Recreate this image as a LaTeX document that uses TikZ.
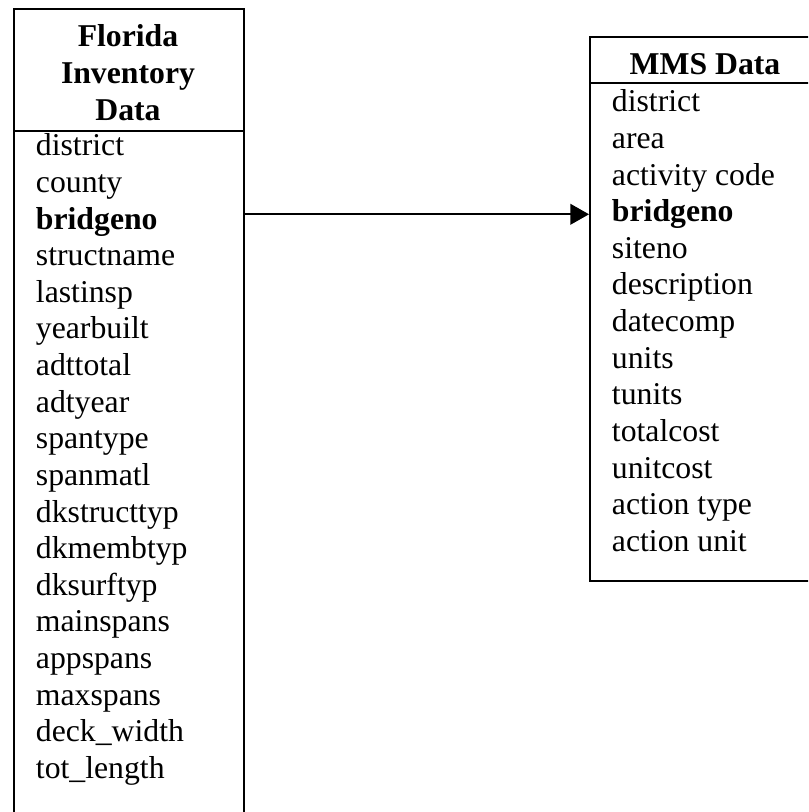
\documentclass[tikz,border=0pt]{standalone}
\usepackage{fontspec}
\setmainfont{Liberation Serif}
\usetikzlibrary{arrows.meta,positioning}

\begin{document}
\begin{tikzpicture}[x=0.75pt,y=-0.75pt,line width=1.4pt,
		tablebox/.style={draw,inner sep=0pt,anchor=north west},
		field/.style={anchor=base west,inner sep=0pt,font=\fontsize{23.8}{27.5}\selectfont},
		head/.style={anchor=base,inner sep=0pt,font=\fontsize{23.8}{27.5}\selectfont\bfseries}]
	\useasboundingbox (0,0) rectangle (808,812);
	\clip (0,0) rectangle (808,812);
	% Florida inventory table
	\node[tablebox,minimum width=172.5pt,minimum height=616.5pt] (florida) at (13,8) {};
	\draw (13,131) -- (245,131);
	\node[head] (fhead1) at (128,47) {Florida};
	\node[head] (fhead2) at (128,83.6) {Inventory};
	\node[head] (fhead3) at (128,120.2) {Data};
	\foreach \f [count=\i] in {district,county,\textbf{bridgeno},structname,lastinsp,yearbuilt,
		adttotal,adtyear,spantype,spanmatl,dkstructtyp,dkmembtyp,dksurftyp,mainspans,
		appspans,maxspans,deck\_width,tot\_length}
		\node[field] (fl\i) at (35,{156+36.6*(\i-1)}) {\f};
	% MMS table
	\node[tablebox,minimum width=174.75pt,minimum height=408pt] (mms) at (589,36) {};
	\draw (589,83) -- (822,83);
	\node[head] (mhead) at (705,75) {MMS Data};
	\foreach \f [count=\i] in {district,area,activity code,\textbf{bridgeno},siteno,
		description,datecomp,units,tunits,totalcost,unitcost,action type,action unit}
		\node[field] (mm\i) at (611,{112+36.6*(\i-1)}) {\f};
	% link on bridgeno
	\draw[-{Triangle[length=14pt,width=15.5pt]}] (florida.east |- mm4) -- (mms.west |- mm4);
\end{tikzpicture}
\end{document}
